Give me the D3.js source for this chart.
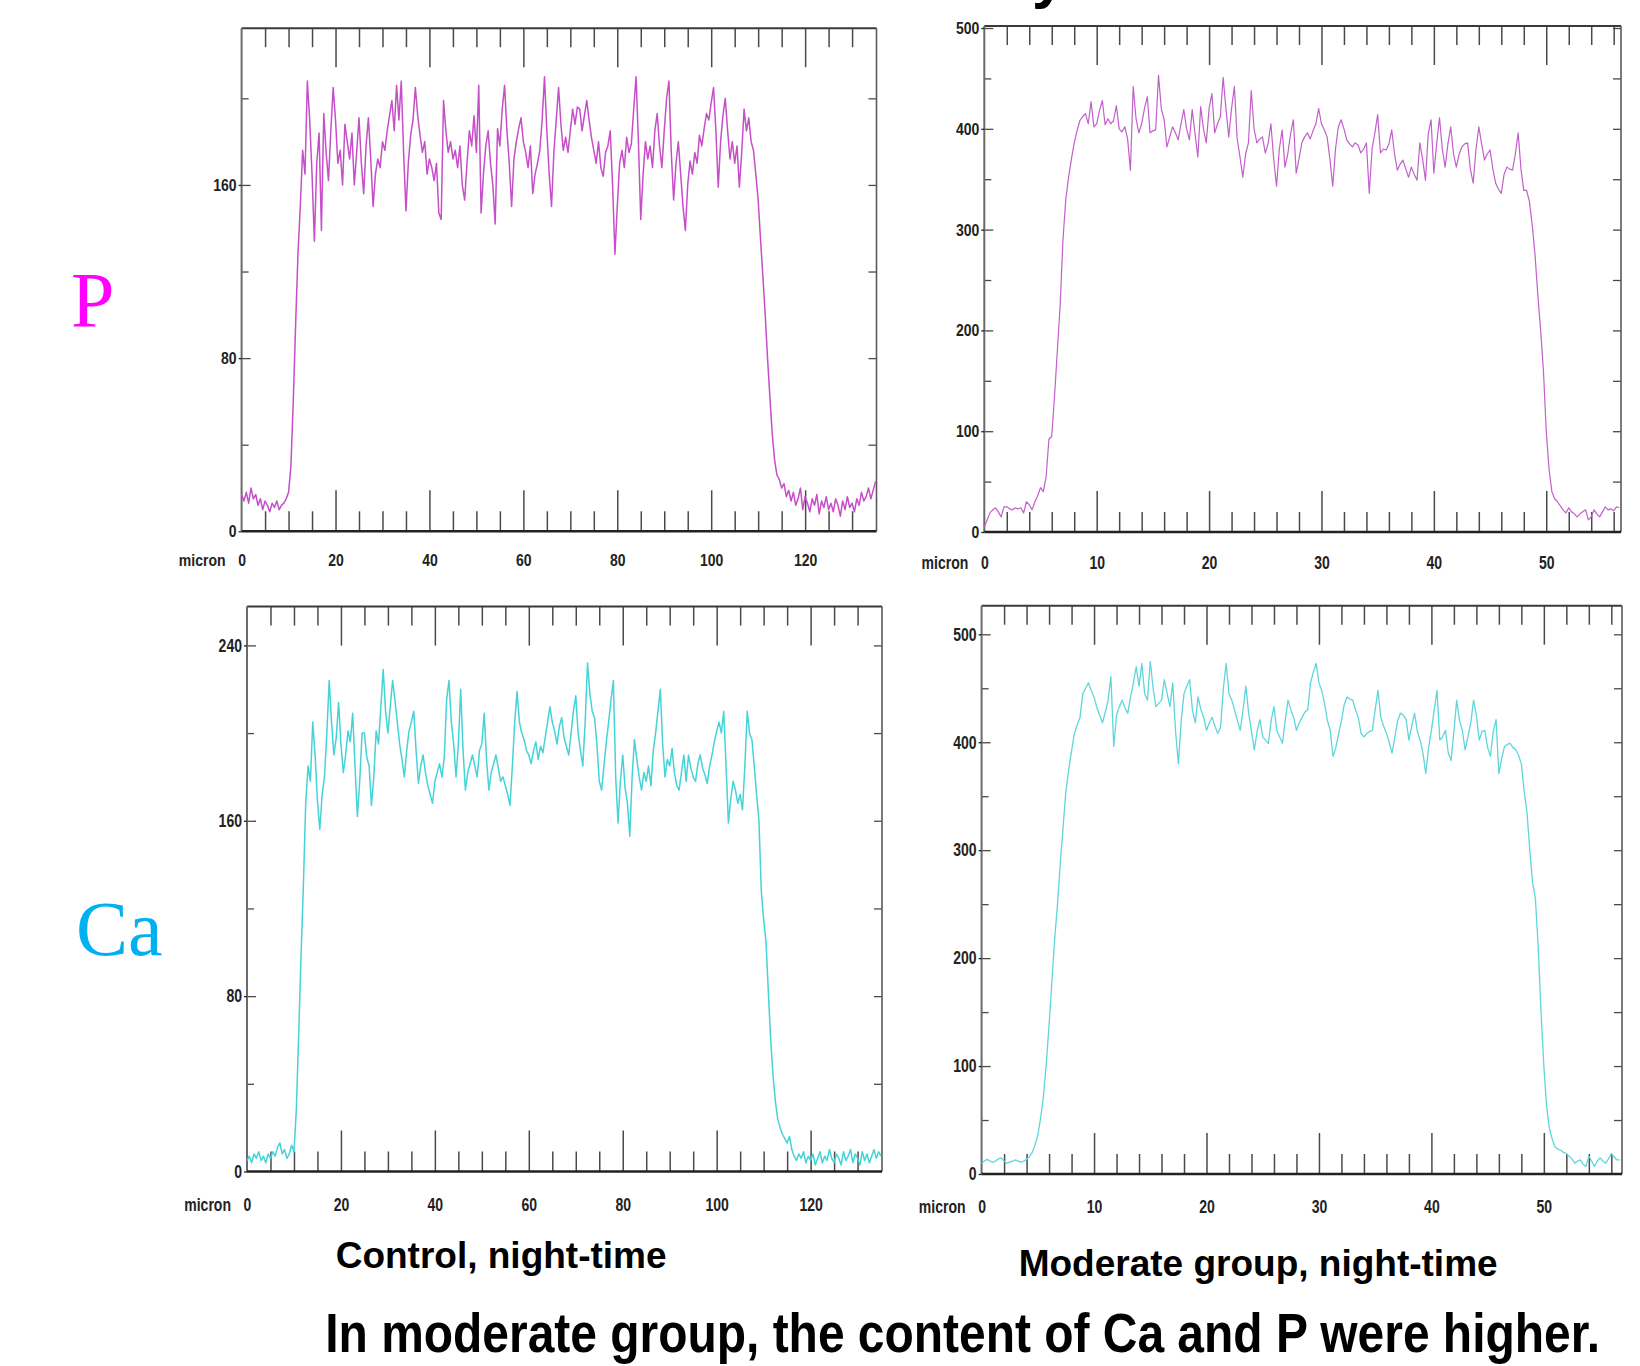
<!DOCTYPE html>
<html>
<head>
<meta charset="utf-8">
<script src="https://cdnjs.cloudflare.com/ajax/libs/d3/7.8.5/d3.min.js"></script>
<style>
  body { margin: 0; background: #fff; }
  svg { display: block; }
</style>
</head>
<body>
<svg id="drawing_region"></svg>
<script>
// line-scan intensity, one value per sample
const controlStep = 0.5;    // micron between samples, control profiles
const moderateStep = 0.25;  // micron between samples, moderate profiles

const pControl = [
  17,14,18,13,20,15,17,12,15,10,      // x = 0
  14,12,9,13,11,14,10,12,13,15,       // x = 5
  18,30,60,95,128,150,176,165,208,190,
  165,134,170,184,139,193,175,162,185,205,
  190,170,176,160,188,180,172,184,160,175,   // x = 20
  191,170,156,178,191,172,150,165,172,168,
  180,176,185,192,199,185,206,190,208,175,
  148,170,183,190,205,192,183,175,180,165,
  172,168,162,170,147,144,199,185,175,180,   // x = 40
  172,176,168,178,160,153,170,185,178,192,
  175,206,147,165,178,185,170,160,142,186,
  178,195,206,185,170,150,172,180,186,191,
  180,175,168,178,156,165,170,176,190,210,   // x = 60
  185,165,150,175,190,205,188,176,182,175,
  185,195,188,196,195,185,192,199,190,182,
  176,170,180,168,164,175,178,185,160,128,
  150,170,176,168,182,175,179,195,210,180,   // x = 80
  144,165,180,172,178,168,185,193,178,168,
  185,200,208,175,153,170,180,165,150,139,
  160,171,165,175,170,183,178,186,193,190,
  198,205,185,159,180,192,200,185,172,180,   // x = 100
  170,178,159,175,195,185,191,180,176,165,
  153,135,118,100,80,62,45,33,26,24,
  20,22,16,19,14,18,12,15,20,10,
  16,13,9,15,12,17,8,14,11,16,               // x = 120
  10,13,9,15,12,7,14,10,16,11,
  13,9,15,12,18,14,16,20,15,19,
  23
];

const caControl = [
  5,7,4,8,6,9,5,7,4,8,                // x = 0
  6,9,7,11,13,8,10,6,8,12,
  9,28,62,98,130,168,185,178,205,190,
  169,156,172,180,200,224,205,190,198,214,
  195,182,190,201,196,209,185,162,178,200,   // x = 20
  200,189,185,167,180,201,195,212,229,210,
  200,212,224,215,205,195,188,180,192,201,
  205,210,192,177,185,190,182,176,172,168,
  178,182,186,180,189,215,224,205,195,180,   // x = 40
  195,220,192,174,182,186,190,185,180,192,
  195,209,188,174,182,186,190,184,178,180,
  176,172,167,185,205,219,205,200,197,192,
  190,186,192,196,188,194,191,198,205,212,   // x = 60
  205,201,195,203,207,198,194,190,200,210,
  217,200,192,185,205,232,218,210,207,195,
  178,174,185,196,205,215,224,180,159,178,
  190,175,168,153,180,197,188,180,174,182,   // x = 80
  178,185,176,192,200,210,220,195,180,188,
  185,193,182,176,174,182,190,178,190,184,
  180,178,186,190,184,181,177,185,190,196,
  201,205,200,210,185,159,170,178,174,168,   // x = 100
  172,165,185,210,200,197,185,172,160,128,
  115,105,82,60,44,32,24,20,17,15,
  13,16,10,7,5,8,6,9,4,7,
  5,8,3,6,9,4,7,5,10,6,                      // x = 120
  4,8,6,3,9,5,7,10,4,8,
  6,3,9,5,8,4,7,10,6,9,
  7
];

const pModerate = [
  5,12,19,22,24,20,15,25,             // x = 0
  25,23,22,24,23,24,19,30,
  27,22,30,36,44,40,55,92,
  95,135,180,225,290,330,352,370,
  386,398,408,412,415,405,427,402,    // x = 8
  405,418,428,404,410,405,408,423,
  400,397,402,390,359,442,410,396,
  405,420,432,396,398,399,453,420,
  409,382,392,402,396,389,405,419,    // x = 16
  400,389,419,395,372,422,400,386,
  420,435,396,405,412,451,420,392,
  420,442,390,372,352,375,386,438,
  400,386,390,392,376,385,405,370,    // x = 24
  343,380,399,362,375,395,409,356,
  370,386,392,396,390,398,405,420,
  405,399,392,370,343,380,402,409,
  400,389,385,382,386,384,376,380,    // x = 32
  386,336,380,396,414,376,380,379,
  385,399,375,359,365,369,360,352,
  362,355,349,386,370,349,395,409,
  356,385,411,380,362,385,402,375,    // x = 40
  362,375,382,385,386,360,346,380,
  402,385,369,375,379,360,346,340,
  336,355,362,360,359,375,396,360,
  339,339,328,305,275,235,200,160,    // x = 48
  100,62,40,33,30,26,22,19,
  24,20,18,15,18,20,22,12,
  15,22,18,15,20,25,22,23,
  21,25,24                            // x = 56
];

const caModerate = [
  10,12,13.5,12,11,12,14,15,          // x = 0
  12,10,11,12,13,12,11,12,
  13.5,16,20,27,36,52,72,102,
  138,178,218,250,288,322,355,375,
  392,408,416,423,445,450,455,448,    // x = 8
  442,432,425,418,428,439,461,396,
  425,433,439,432,427,442,455,470,
  452,473,445,439,475,450,433,436,
  439,458,445,433,455,410,380,420,    // x = 16
  445,452,458,430,418,442,430,423,
  411,418,423,415,408,414,450,473,
  445,439,430,420,411,430,452,427,
  410,393,410,421,405,402,399,420,    // x = 24
  433,411,405,399,420,439,430,423,
  411,418,423,428,430,455,465,473,
  455,448,436,420,411,387,395,408,
  420,435,442,440,439,430,423,408,    // x = 32
  405,408,410,411,430,448,423,415,
  408,400,390,405,420,427,425,421,
  402,415,427,410,402,390,371,395,
  411,430,448,402,405,411,390,383,    // x = 40
  410,439,420,411,393,405,418,439,
  425,402,410,411,395,387,410,421,
  371,385,396,398,399,395,393,388,
  380,355,335,300,270,255,210,150,    // x = 48
  100,62,42,32,25,23,22,20,
  19,16.5,14,10,12,13,9,7,
  16.5,12,7,12,15,12,10,14,
  19,16,13,13                         // x = 56
];

const controlXLabels = [0, 20, 40, 60, 80, 100, 120];
const moderateXLabels = [0, 10, 20, 30, 40, 50];
const pControlYLabels = [0, 80, 160];
const caControlYLabels = [0, 80, 160, 240];
const moderateYLabels = [0, 100, 200, 300, 400, 500];
const elementLabels = ['P', 'Ca'];
const groupCaptions = ['Control, night-time', 'Moderate group, night-time'];
const conclusion = 'In moderate group, the content of Ca and P were higher.';

const W = 1640, H = 1366;
const tickFont = "'Liberation Sans', Arial, sans-serif";
const charWidth = 7.8;   // the scan software's labels are narrow

const svg = d3.select('#drawing_region')
  .attr('width', W)
  .attr('height', H)
  .attr('viewBox', `0 0 ${W} ${H}`);

svg.append('defs').append('clipPath')
  .attr('id', 'clip_left')
  .append('rect')
  .attr('x', 179).attr('y', 0).attr('width', W).attr('height', H);

// squeeze a text horizontally to a given width
function squeeze( node, width ) {
  const s = width / node.getComputedTextLength();
  const x0 = +(node.getAttribute('x') || 0);
  d3.select(node)
    .attr('x', x0 / s)
    .attr('transform', `scale(${s},1)`);
}

// the narrow look of the original tick labels
function narrow( sel ) {
  sel.each(function() { squeeze(this, this.textContent.length * charWidth); });
}

class ProfilePlot {

  constructor( config, data ) {
    this.config = config;
    this.data = data;
    this.init();
  }

  init() {
    let self = this;
    const c = self.config;

    self.chart = svg.append('g');

    self.xscale = d3.scaleLinear()
      .domain([0, c.xMax])
      .range([c.left, c.right]);

    self.yscale = d3.scaleLinear()
      .domain([0, c.yMax])
      .range([c.bottom, c.top]);
  }

  update() {
    let self = this;
    const c = self.config;

    self.xMajor = d3.range(c.xMajorStep, c.xMax - 1, c.xMajorStep);
    self.xMinor = d3.range(c.xMinorStep, c.xMax - 0.5, c.xMinorStep)
      .filter(v => v % c.xMajorStep !== 0);
    self.yTicks = d3.range(c.yStep, c.yMax, c.yStep);

    self.line = d3.line()
      .x((d, i) => self.xscale(i * c.step))
      .y(d => self.yscale(d));

    self.render();
  }

  tickMarks( axis, values, size, tx, ty, width ) {
    let self = this;
    self.chart.append('g')
      .attr('transform', `translate(${tx},${ty})`)
      .attr('color', '#4a4a4a')
      .call(axis.tickValues(values).tickSize(size).tickFormat(''))
      .call(g => g.select('.domain').remove())
      .selectAll('line')
      .attr('stroke-width', width);
  }

  render() {
    let self = this;
    const c = self.config;

    // x ticks, pointing into the frame from bottom and top
    self.tickMarks(d3.axisTop(self.xscale), self.xMinor, 20, 0, c.bottom, 1.5);
    self.tickMarks(d3.axisTop(self.xscale), self.xMajor, 41, 0, c.bottom, 1.5);
    self.tickMarks(d3.axisBottom(self.xscale), self.xMinor, 19, 0, c.top, 1.5);
    self.tickMarks(d3.axisBottom(self.xscale), self.xMajor, 39, 0, c.top, 1.5);

    // y ticks on both sides
    const labelled = self.yTicks.filter(v => c.yLabels.includes(v));
    const plain = self.yTicks.filter(v => !c.yLabels.includes(v));
    self.tickMarks(d3.axisRight(self.yscale), plain, 7, c.left, 0, 1.3);
    self.tickMarks(d3.axisRight(self.yscale), labelled, 9, c.left, 0, 1.3);
    self.tickMarks(d3.axisLeft(self.yscale), self.yTicks, 8, c.right, 0, 1.3);

    // frame
    const frame = [
      {x1: c.left, y1: c.top, x2: c.right, y2: c.top, w: 2, s: '#3a3a3a'},
      {x1: c.left, y1: c.top, x2: c.left, y2: c.bottom, w: 2, s: '#6a6a6a'},
      {x1: c.right, y1: c.top, x2: c.right, y2: c.bottom, w: 1.6, s: '#5a5a5a'},
      {x1: c.left, y1: c.bottom, x2: c.right, y2: c.bottom, w: 2.6, s: '#222'}
    ];
    self.chart.selectAll('.frame')
      .data(frame)
      .join('line')
      .attr('x1', d => d.x1).attr('y1', d => d.y1)
      .attr('x2', d => d.x2).attr('y2', d => d.y2)
      .attr('stroke', d => d.s)
      .attr('stroke-width', d => d.w);

    // y labels
    self.chart.append('g')
      .attr('transform', `translate(${c.left},0)`)
      .attr('color', '#222')
      .call(d3.axisLeft(self.yscale).tickValues(c.yLabels).tickSize(3).tickPadding(2))
      .call(g => g.select('.domain').remove())
      .call(g => g.selectAll('line').attr('stroke-width', 1.3))
      .attr('font-family', tickFont)
      .attr('font-weight', 'bold')
      .attr('font-size', c.yFont)
      .call(g => g.selectAll('text').call(narrow));

    // x labels
    self.chart.append('g')
      .attr('transform', `translate(0,${c.bottom})`)
      .attr('color', '#222')
      .call(d3.axisBottom(self.xscale).tickValues(c.xLabels).tickSize(0).tickPadding(c.labelPad))
      .call(g => g.select('.domain').remove())
      .attr('font-family', tickFont)
      .attr('font-weight', 'bold')
      .attr('font-size', c.xFont)
      .call(g => g.selectAll('text').call(narrow));

    const unitLabel = self.chart.append('g');
    if (c.clip) unitLabel.attr('clip-path', 'url(#clip_left)');
    unitLabel.append('text')
      .attr('x', self.xscale(0) - 16)
      .attr('y', c.bottom + c.labelPad)
      .attr('dy', '0.71em')
      .attr('text-anchor', 'end')
      .attr('font-family', tickFont)
      .attr('font-weight', 'bold')
      .attr('font-size', c.xFont)
      .attr('fill', '#222')
      .text('micron')
      .call(narrow);

    // profile
    self.chart.append('path')
      .datum(self.data)
      .attr('d', self.line)
      .attr('fill', 'none')
      .attr('stroke', c.color)
      .attr('stroke-width', c.strokeWidth)
      .attr('stroke-linejoin', 'round');
  }
}

const panels = [
  { data: pControl, config: {
      left: 241.6, right: 876.5, top: 28.2, bottom: 531.3,
      xMax: 135.2, yMax: 232.4, step: controlStep,
      xMinorStep: 5, xMajorStep: 20, yStep: 40,
      xLabels: controlXLabels, yLabels: pControlYLabels,
      labelPad: 23, xFont: 17, yFont: 17,
      color: '#c64ec9', strokeWidth: 1.5, clip: true } },
  { data: pModerate, config: {
      left: 984.3, right: 1621, top: 26, bottom: 532,
      xMax: 56.65, yMax: 502, step: moderateStep,
      xMinorStep: 2, xMajorStep: 10, yStep: 50,
      xLabels: moderateXLabels, yLabels: moderateYLabels,
      labelPad: 24, xFont: 19, yFont: 17,
      color: '#c25fca', strokeWidth: 1.2 } },
  { data: caControl, config: {
      left: 247, right: 882, top: 606.6, bottom: 1171.5,
      xMax: 135.2, yMax: 257.7, step: controlStep,
      xMinorStep: 5, xMajorStep: 20, yStep: 40,
      xLabels: controlXLabels, yLabels: caControlYLabels,
      labelPad: 26, xFont: 19, yFont: 18,
      color: '#45d3d8', strokeWidth: 1.5 } },
  { data: caModerate, config: {
      left: 981.6, right: 1622, top: 605.7, bottom: 1174,
      xMax: 56.95, yMax: 526.5, step: moderateStep,
      xMinorStep: 2, xMajorStep: 10, yStep: 50,
      xLabels: moderateXLabels, yLabels: moderateYLabels,
      labelPad: 26, xFont: 19, yFont: 18,
      color: '#5ed6dc', strokeWidth: 1.3 } }
];

panels.forEach(p => {
  const plot = new ProfilePlot(p.config, p.data);
  plot.update();
});

// element names
svg.append('text')
  .attr('x', 71).attr('y', 326)
  .attr('font-family', "'Liberation Serif', serif")
  .attr('font-size', 78)
  .attr('fill', '#ff00ff')
  .text(elementLabels[0]);

svg.append('text')
  .attr('x', 76).attr('y', 955)
  .attr('font-family', "'Liberation Serif', serif")
  .attr('font-size', 78)
  .attr('fill', '#00b0f0')
  .text(elementLabels[1]);

// cut-off heading at the very top
svg.append('text')
  .attr('x', 1032).attr('y', -3)
  .attr('font-family', "'Liberation Sans', Arial, sans-serif")
  .attr('font-weight', 'bold')
  .attr('font-size', 60)
  .attr('fill', '#000')
  .text('y');

// captions
const captions = [
  { text: groupCaptions[0], x: 335.7, y: 1267.5, size: 37 },
  { text: groupCaptions[1], x: 1018.7, y: 1276, size: 37 }
];
svg.selectAll('.caption')
  .data(captions)
  .join('text')
  .attr('class', 'caption')
  .attr('x', d => d.x)
  .attr('y', d => d.y)
  .attr('font-family', "'Liberation Sans', Arial, sans-serif")
  .attr('font-weight', 'bold')
  .attr('font-size', d => d.size)
  .attr('fill', '#000')
  .text(d => d.text);

// the closing sentence is set condensed in the original
svg.append('text')
  .attr('x', 325.3)
  .attr('y', 1352)
  .attr('font-family', "'Liberation Sans', Arial, sans-serif")
  .attr('font-weight', 'bold')
  .attr('font-size', 55)
  .attr('fill', '#000')
  .text(conclusion)
  .each(function() { squeeze(this, 1275); });
</script>
</body>
</html>
